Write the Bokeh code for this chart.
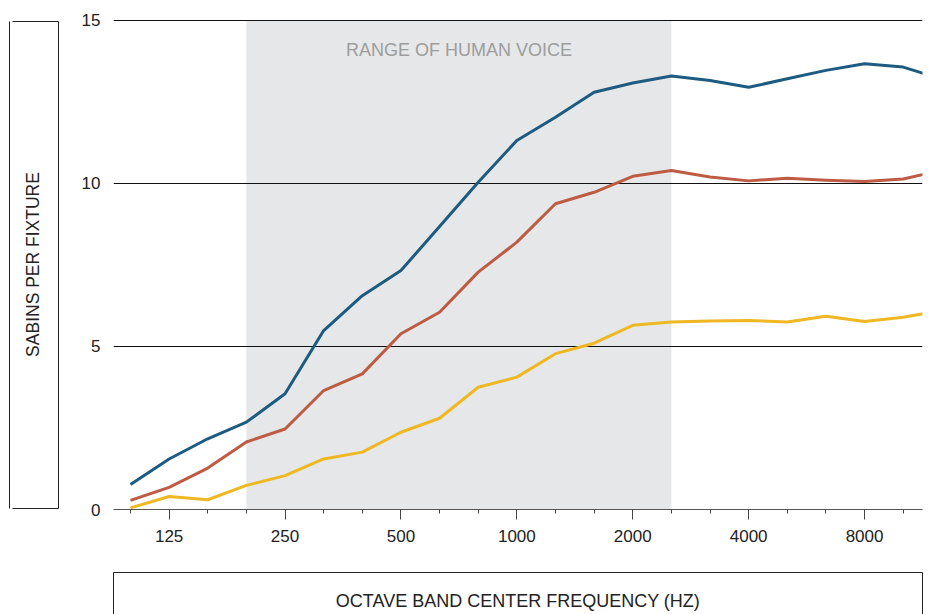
from bokeh.plotting import figure
from bokeh.models import Range1d, FixedTicker, Label, LinearAxis
from bokeh.embed import file_html
from bokeh.resources import INLINE

# ---- data ----
bands = ["100", "125", "160", "200", "250", "315", "400", "500", "630", "800",
         "1000", "1250", "1600", "2000", "2500", "3150", "4000", "5000", "6300",
         "8000", "10000", "12500"]
labelled_bands = ["125", "250", "500", "1000", "2000", "4000", "8000"]
tick_bands = bands[:21]
voice_range = ("200", "2500")
y_ticks = [0, 5, 10, 15]
grid_values = [5, 10, 15]

series_blue = [0.77, 1.55, 2.17, 2.68, 3.55, 5.49, 6.56, 7.33, 8.68, 10.04, 11.32,
               12.03, 12.8, 13.08, 13.3, 13.16, 12.95, 13.21, 13.47, 13.67, 13.57, 13.2]
series_red = [0.28, 0.68, 1.27, 2.07, 2.47, 3.65, 4.16, 5.39, 6.05, 7.28, 8.2,
              9.38, 9.73, 10.22, 10.4, 10.2, 10.08, 10.16, 10.1, 10.06, 10.14, 10.4]
series_yellow = [0.05, 0.4, 0.3, 0.74, 1.04, 1.55, 1.76, 2.37, 2.8, 3.75, 4.06,
                 4.78, 5.1, 5.65, 5.75, 5.78, 5.8, 5.75, 5.93, 5.77, 5.9, 6.1]

FONT = "Liberation Sans"
INK = "#222222"
W, H = 931, 614
FL, FB = 113, 509   # frame left / bottom on the canvas
X0, X1 = -0.44, 20.5
Y1 = 15.03

xpos = list(range(len(bands)))

p = figure(width=W, height=H, output_backend="svg", toolbar_location=None,
           x_range=Range1d(X0, X1), y_range=Range1d(0, Y1),
           min_border_left=FL, min_border_right=9, min_border_top=19,
           min_border_bottom=H - FB)
p.outline_line_color = None
p.background_fill_color = "white"
p.border_fill_color = "white"
p.xgrid.visible = False
p.ygrid.visible = False

# shaded voice range
p.quad(left=[bands.index(voice_range[0])], right=[bands.index(voice_range[1])],
       bottom=[0], top=[15], fill_color="#e6e7e8", line_color=None)

# horizontal grid lines
p.hspan(y=grid_values, line_color="#111111", line_width=1)

# series lines
for vals, col in [(series_yellow, "#efb722"), (series_red, "#bd5b43"),
                  (series_blue, "#1d5b80")]:
    p.line(xpos, vals, line_color=col, line_width=3, line_join="round")

# x axis
xa = p.xaxis[0]
xa.ticker = FixedTicker(ticks=[bands.index(b) for b in labelled_bands],
                        minor_ticks=[bands.index(b) for b in tick_bands])
xa.major_label_overrides = {bands.index(b): b for b in labelled_bands}
xa.axis_line_color = "#555555"
xa.axis_line_width = 1
xa.major_tick_line_color = "#444444"
xa.minor_tick_line_color = "#444444"
xa.major_tick_in = 0
xa.major_tick_out = 10
xa.minor_tick_in = 0
xa.minor_tick_out = 4
xa.major_label_standoff = 10
xa.major_label_text_font = FONT
xa.major_label_text_font_size = "17px"
xa.major_label_text_color = INK

# y axis
ya = p.yaxis[0]
ya.ticker = FixedTicker(ticks=y_ticks)
ya.axis_line_color = None
ya.major_tick_line_color = None
ya.minor_tick_line_color = None
ya.major_tick_in = 0
ya.major_tick_out = 0
ya.major_label_standoff = 13
ya.major_label_text_font = FONT
ya.major_label_text_font_size = "17px"
ya.major_label_text_color = INK


def quiet_axis(tick, **kw):
    """An axis with no tick labels; only what kw switches on is drawn."""
    opts = dict(ticker=FixedTicker(ticks=[tick]), major_label_overrides={tick: ""},
                axis_line_color=None, major_tick_line_color=None,
                minor_tick_line_color=None, major_tick_in=0, major_tick_out=0,
                minor_tick_in=0, minor_tick_out=0, major_label_standoff=0,
                major_label_text_font_size="0px")
    opts.update(kw)
    return LinearAxis(**opts)


# ---- boxed y-axis title (left side panels, from the frame outward) ----
p.add_layout(quiet_axis(5, major_tick_out=20), "left")          # spacer
yb_lo, yb_hi = 0.03, Y1 - 0.06
p.add_layout(LinearAxis(
    ticker=FixedTicker(ticks=[yb_lo, yb_hi]),
    major_label_overrides={yb_lo: "", yb_hi: ""},
    bounds=(yb_lo, yb_hi),
    axis_line_color=INK, axis_line_width=1,
    major_tick_line_color=INK, major_tick_line_width=1,
    major_tick_in=0, major_tick_out=46, minor_tick_in=0, minor_tick_out=0,
    minor_tick_line_color=None,
    major_label_standoff=0, major_label_text_font_size="0px",
    axis_label="SABINS PER FIXTURE", axis_label_standoff=-30,
    axis_label_text_font=FONT, axis_label_text_font_size="17.5px",
    axis_label_text_font_style="normal", axis_label_text_color=INK), "left")
p.add_layout(quiet_axis(5, major_tick_out=10), "left")          # spacer
p.add_layout(quiet_axis(5, bounds=(yb_lo, yb_hi), axis_line_color=INK,
                        axis_line_width=1), "left")             # left edge

# ---- boxed x-axis title (below panels) ----
p.add_layout(quiet_axis(5, major_tick_out=28), "below")         # spacer
xb_lo, xb_hi = X0 + 0.01, X1 - 0.01
p.add_layout(LinearAxis(
    ticker=FixedTicker(ticks=[xb_lo, xb_hi]),
    major_label_overrides={xb_lo: "", xb_hi: ""},
    axis_line_color=INK, axis_line_width=1,
    major_tick_line_color=INK, major_tick_line_width=1,
    major_tick_in=0, major_tick_out=45, minor_tick_in=0, minor_tick_out=0,
    minor_tick_line_color=None,
    major_label_standoff=0, major_label_text_font_size="0px",
    axis_label="OCTAVE BAND CENTER FREQUENCY (HZ)", axis_label_standoff=-27,
    axis_label_text_font=FONT, axis_label_text_font_size="18px",
    axis_label_text_font_style="normal", axis_label_text_color=INK), "below")

p.add_layout(Label(x=(bands.index(voice_range[0]) + bands.index(voice_range[1])) / 2,
                   y=14.1, text="RANGE OF HUMAN VOICE", text_align="center",
                   text_baseline="middle", text_font=FONT, text_font_size="18px",
                   text_color="#9d9d9d", level="glyph"))

open("out.html", "w").write(file_html(p, INLINE))
